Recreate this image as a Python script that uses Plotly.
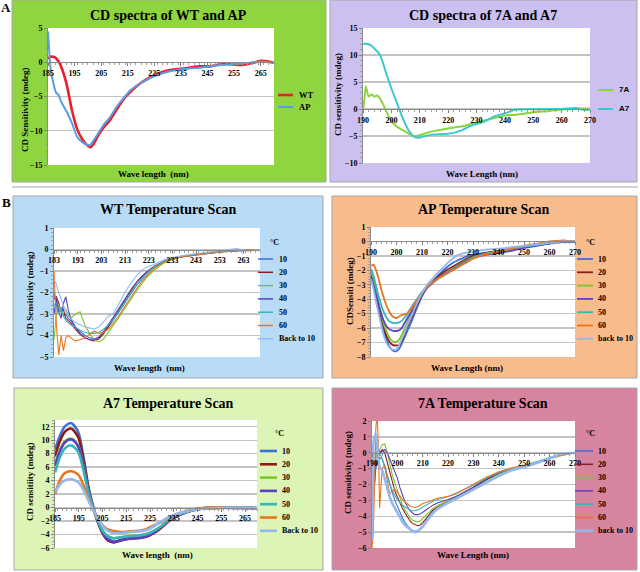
import plotly.graph_objects as go

# ======================= DATA =======================
# Panel A (left): CD spectra of WT and AP
wl_wt_ap = [185, 186, 187, 188, 189, 190, 192, 194, 196, 198, 200, 201, 202, 204, 206, 208, 210, 212,
            214, 216, 218, 220, 223, 226, 230, 234, 238, 242, 246, 250, 254, 258, 262, 265, 268, 270]
cd_wt = [0.5, 0.8, 0.8, 0.6, 0.1, -0.7, -3.2, -7.0, -9.8, -11.3, -12.2, -12.4, -12.0, -10.6, -9.5, -8.6,
         -7.4, -6.2, -5.1, -4.3, -3.6, -3.0, -2.3, -1.7, -1.2, -1.0, -0.8, -0.6, -0.6, -0.3, -0.3, -0.4,
         -0.1, 0.2, 0.1, -0.1]
cd_ap = [4.5, -1.0, -3.0, -4.4, -4.8, -5.8, -7.2, -8.9, -10.9, -11.7, -12.1, -12.0, -11.5, -10.3, -9.1,
         -8.2, -7.0, -5.9, -5.0, -4.1, -3.5, -3.0, -2.4, -1.9, -1.4, -1.1, -0.9, -0.8, -0.6, -0.4, -0.3,
         -0.2, 0.0, 0.1, 0.0, -0.1]

# Panel A (right): CD spectra of 7A and A7
wl_7a_a7 = [190, 190.5, 191, 192, 193, 194, 195, 196, 197, 198, 200, 202, 204, 206, 208, 210, 212, 215,
            220, 225, 228, 230, 233, 236, 240, 244, 250, 255, 260, 265, 268, 270]
cd_7a = [-0.5, 2.0, 4.2, 2.3, 2.7, 2.3, 2.5, 1.9, 1.0, -0.2, -2.2, -3.3, -3.9, -4.5, -5.1, -4.8, -4.5,
         -4.1, -3.6, -3.2, -2.8, -2.5, -2.1, -1.7, -1.2, -1.05, -0.6, -0.4, -0.1, 0.1, 0.1, 0.1]
cd_a7 = [12.0, 12.1, 12.1, 12.0, 11.7, 11.2, 10.7, 10.0, 8.6, 6.9, 3.8, 1.05, -1.7, -3.9, -5.1, -5.3,
         -5.0, -4.7, -4.6, -3.9, -3.1, -2.8, -2.3, -1.4, -0.8, -0.1, -0.05, 0.0, 0.0, 0.2, -0.2, -0.1]

temp_labels = ["10", "20", "30", "40", "50", "60", "Back to 10"]
temp_labels_lc = ["10", "20", "30", "40", "50", "60", "back to 10"]

# Panel B: WT temperature scan
wl_wt_scan = [183, 184, 185, 186, 187, 188, 189, 190, 192, 194, 196, 198, 200, 202, 204, 206, 208, 210,
              212, 214, 216, 218, 220, 222, 224, 226, 228, 230, 233, 236, 240, 245, 250, 255, 260, 265, 270]
wt_10 = [-2.0, -2.6, -2.9, -2.7, -3.1, -3.0, -3.2, -3.3, -3.6, -3.8, -4.0, -4.1, -4.15, -4.1, -3.9, -3.6,
         -3.3, -3.0, -2.65, -2.3, -1.95, -1.65, -1.4, -1.15, -0.95, -0.78, -0.64, -0.52, -0.4, -0.33,
         -0.27, -0.2, -0.14, -0.08, -0.04, -0.03, 0.0]
wt_20 = [-2.3, -2.2, -2.5, -2.9, -2.8, -3.2, -3.3, -3.4, -3.7, -3.95, -4.1, -4.2, -4.25, -4.15, -3.9,
         -3.55, -3.2, -2.85, -2.5, -2.15, -1.8, -1.5, -1.25, -1.05, -0.88, -0.74, -0.62, -0.52, -0.42,
         -0.34, -0.27, -0.2, -0.13, -0.08, -0.05, -0.02, 0.0]
wt_30 = [-4.2, -3.0, -2.6, -2.9, -2.7, -2.8, -3.0, -3.2, -3.0, -2.9, -3.5, -3.9, -4.2, -4.3, -4.15, -3.85,
         -3.55, -3.25, -2.9, -2.55, -2.2, -1.9, -1.6, -1.32, -1.1, -0.9, -0.74, -0.6, -0.46, -0.37, -0.3,
         -0.22, -0.16, -0.1, -0.06, -0.04, -0.02]
wt_40 = [-3.0, -2.3, -2.9, -3.2, -2.5, -2.2, -2.8, -3.2, -3.6, -3.9, -4.1, -4.2, -4.2, -4.05, -3.8, -3.5,
         -3.15, -2.8, -2.45, -2.1, -1.78, -1.5, -1.25, -1.05, -0.9, -0.76, -0.64, -0.54, -0.44, -0.36,
         -0.3, -0.22, -0.15, -0.09, -0.05, -0.06, -0.02]
wt_50 = [-2.5, -2.8, -3.0, -2.7, -3.1, -3.3, -3.4, -3.5, -3.6, -3.75, -3.85, -3.9, -3.9, -3.85, -3.7,
         -3.5, -3.25, -2.95, -2.6, -2.25, -1.92, -1.62, -1.36, -1.12, -0.93, -0.77, -0.63, -0.52, -0.41,
         -0.34, -0.27, -0.2, -0.13, -0.08, -0.03, -0.03, 0.0]
wt_60 = [-1.0, -3.5, -4.9, -4.0, -4.7, -4.1, -4.0, -4.1, -4.25, -4.2, -4.1, -3.95, -3.8, -3.9, -3.85,
         -3.7, -3.45, -3.15, -2.8, -2.45, -2.1, -1.8, -1.5, -1.25, -1.03, -0.84, -0.68, -0.56, -0.44,
         -0.36, -0.29, -0.21, -0.14, -0.08, -0.03, -0.03, 0.0]
wt_back = [-1.4, -1.6, -2.0, -2.3, -2.6, -2.9, -3.1, -3.2, -3.4, -3.5, -3.6, -3.65, -3.7, -3.6, -3.35,
           -3.1, -3.0, -2.6, -2.2, -1.8, -1.5, -1.2, -0.98, -0.82, -0.75, -0.66, -0.55, -0.46, -0.37,
           -0.3, -0.24, -0.16, -0.1, -0.05, 0.04, -0.06, 0.0]

# Panel B: AP temperature scan
wl_ap_scan = [190, 191, 192, 193, 194, 195, 196, 197, 198, 199, 200, 201, 202, 203, 204, 205, 206, 208,
              210, 212, 214, 216, 218, 220, 222, 224, 226, 228, 230, 233, 236, 240, 245, 250, 255, 260,
              265, 270]
ap_10 = [-2.3, -3.0, -3.9, -4.7, -5.5, -6.2, -6.8, -7.2, -7.45, -7.6, -7.6, -7.45, -7.1, -6.7, -6.3, -5.9,
         -5.5, -4.6, -3.8, -3.2, -2.8, -2.4, -2.05, -1.75, -1.5, -1.3, -1.15, -1.0, -0.92, -0.82, -0.75,
         -0.68, -0.55, -0.4, -0.25, -0.12, 0.0, -0.05]
ap_20 = [-2.2, -2.8, -3.6, -4.4, -5.2, -5.9, -6.5, -6.9, -7.1, -7.2, -7.2, -7.2, -6.9, -6.5, -6.0, -5.6,
         -5.2, -4.4, -3.7, -3.2, -2.85, -2.5, -2.2, -1.95, -1.75, -1.55, -1.35, -1.15, -1.0, -0.87, -0.77,
         -0.66, -0.5, -0.35, -0.2, -0.1, 0.05, 0.0]
ap_30 = [-2.1, -2.7, -3.5, -4.3, -5.0, -5.7, -6.2, -6.6, -6.85, -6.95, -6.95, -6.8, -6.5, -6.1, -5.7,
         -5.3, -4.9, -4.2, -3.6, -3.2, -2.9, -2.6, -2.35, -2.1, -1.9, -1.65, -1.45, -1.25, -1.1, -0.95,
         -0.82, -0.7, -0.55, -0.4, -0.25, -0.12, 0.0, 0.0]
ap_40 = [-2.4, -3.0, -3.7, -4.4, -5.0, -5.5, -5.85, -6.05, -6.15, -6.2, -6.2, -6.15, -6.0, -5.7, -5.4,
         -5.1, -4.8, -4.2, -3.65, -3.2, -2.9, -2.6, -2.35, -2.15, -1.95, -1.7, -1.5, -1.3, -1.15, -1.0,
         -0.9, -0.8, -0.65, -0.45, -0.3, -0.15, -0.05, -0.05]
ap_50 = [-1.9, -2.4, -3.1, -3.8, -4.4, -4.9, -5.25, -5.5, -5.6, -5.65, -5.65, -5.6, -5.5, -5.3, -5.1,
         -4.8, -4.5, -4.0, -3.5, -3.1, -2.85, -2.6, -2.4, -2.2, -2.0, -1.75, -1.55, -1.35, -1.15, -0.95,
         -0.8, -0.68, -0.5, -0.35, -0.25, -0.1, 0.0, 0.0]
ap_60 = [-1.7, -1.6, -2.0, -2.6, -3.3, -3.9, -4.4, -4.8, -5.1, -5.25, -5.3, -5.2, -5.1, -5.05, -5.0,
         -4.8, -4.6, -4.1, -3.6, -3.15, -2.85, -2.6, -2.4, -2.2, -2.0, -1.8, -1.6, -1.4, -1.2, -1.0,
         -0.85, -0.7, -0.5, -0.3, -0.15, 0.0, 0.05, 0.0]
ap_back = [-2.6, -3.3, -4.2, -5.0, -5.8, -6.5, -7.0, -7.3, -7.45, -7.5, -7.45, -7.2, -6.8, -6.4, -5.9,
           -5.5, -5.1, -4.3, -3.6, -3.0, -2.6, -2.2, -1.85, -1.5, -1.2, -0.95, -0.82, -0.75, -0.7, -0.62,
           -0.55, -0.5, -0.4, -0.3, -0.2, -0.1, 0.0, 0.0]

# Panel B: A7 temperature scan
wl_a7_scan = [185, 187, 189, 191, 192, 193, 195, 197, 199, 201, 203, 205, 207, 209, 210, 212, 215, 218,
              221, 224, 227, 230, 233, 236, 240, 245, 250, 255, 260, 265, 270]
a7_10 = [8.6, 10.6, 12.0, 12.5, 12.5, 12.2, 11.0, 7.5, 3.2, 0.2, -2.0, -3.7, -4.7, -5.1, -5.15, -4.9,
         -4.6, -4.5, -4.4, -4.2, -3.6, -2.8, -1.9, -1.3, -0.7, -0.2, -0.05, 0.0, -0.05, -0.05, -0.1]
a7_20 = [7.6, 9.8, 11.2, 11.7, 11.7, 11.4, 10.3, 7.0, 3.0, 0.1, -2.1, -3.8, -4.8, -5.1, -5.15, -4.95,
         -4.65, -4.55, -4.45, -4.25, -3.7, -2.9, -2.0, -1.35, -0.75, -0.25, -0.05, 0.0, 0.0, 0.0, -0.1]
a7_30 = [6.5, 8.5, 9.8, 10.2, 10.2, 10.0, 9.0, 6.1, 2.6, 0.0, -1.9, -3.4, -4.2, -4.5, -4.55, -4.45,
         -4.3, -4.2, -4.1, -3.9, -3.4, -2.7, -1.8, -1.2, -0.65, -0.2, -0.05, 0.0, 0.0, 0.0, -0.1]
a7_40 = [6.2, 8.3, 9.6, 10.1, 10.1, 9.9, 8.9, 6.1, 2.6, 0.0, -2.0, -3.6, -4.6, -5.0, -5.05, -4.9, -4.7,
         -4.6, -4.5, -4.2, -3.6, -2.8, -1.9, -1.3, -0.7, -0.25, -0.05, 0.0, 0.0, -0.05, -0.1]
a7_50 = [5.2, 7.4, 8.7, 9.2, 9.2, 9.0, 8.1, 5.5, 2.3, -0.1, -1.9, -3.4, -4.2, -4.5, -4.55, -4.45, -4.3,
         -4.2, -4.1, -3.9, -3.4, -2.7, -1.8, -1.2, -0.65, -0.2, -0.05, 0.0, 0.0, 0.0, -0.05]
a7_60 = [2.0, 4.0, 5.1, 5.4, 5.4, 5.3, 4.8, 3.3, 1.3, -0.3, -1.6, -2.6, -3.2, -3.45, -3.5, -3.6, -3.6,
         -3.5, -3.4, -3.1, -2.6, -2.1, -1.5, -1.0, -0.55, -0.15, 0.0, 0.0, -0.05, -0.05, -0.1]
a7_back = [2.3, 3.4, 4.0, 4.2, 4.2, 4.1, 3.7, 2.6, 1.1, -0.3, -1.6, -2.7, -3.4, -3.75, -3.8, -3.8, -3.7,
           -3.6, -3.5, -3.3, -2.7, -2.0, -1.4, -1.0, -0.6, -0.25, -0.1, -0.05, -0.05, -0.05, -0.1]

# Panel B: 7A temperature scan
wl_7a_scan = [190, 190.5, 191, 191.5, 192, 192.5, 193, 194, 195, 196, 197, 198, 199, 200, 201, 202, 203,
              204, 205, 206, 207, 208, 209, 210, 212, 214, 216, 218, 220, 223, 226, 230, 235, 240, 245,
              250, 255, 260, 265, 270]
s7a_10 = [-2.0, -1.8, -2.1, -0.5, -0.8, -0.5, -0.3, -0.4, -0.8, -1.4, -2.0, -2.5, -3.0, -3.4, -3.8, -4.1,
          -4.4, -4.6, -4.8, -4.9, -4.95, -4.9, -4.8, -4.6, -4.1, -3.7, -3.45, -3.25, -3.1, -2.85, -2.6,
          -2.2, -1.7, -1.3, -1.05, -0.85, -0.6, -0.35, -0.1, 0.0]
s7a_20 = [-1.0, -0.5, -0.8, -0.2, 0.1, -0.1, 0.0, 0.2, 0.0, -0.6, -1.3, -1.9, -2.4, -2.8, -3.2, -3.5,
          -3.8, -4.1, -4.3, -4.45, -4.55, -4.6, -4.55, -4.4, -4.0, -3.6, -3.4, -3.2, -3.05, -2.8, -2.55,
          -2.2, -1.7, -1.3, -1.05, -0.85, -0.6, -0.35, -0.1, 0.0]
s7a_30 = [-1.5, -0.8, -0.5, -0.3, 0.0, -0.2, 0.2, 0.5, 0.55, 0.0, -0.8, -1.4, -1.9, -2.4, -2.9, -3.3,
          -3.6, -3.9, -4.1, -4.25, -4.3, -4.35, -4.3, -4.15, -3.8, -3.5, -3.3, -3.15, -3.0, -2.8, -2.6,
          -2.3, -1.8, -1.35, -1.05, -0.85, -0.65, -0.4, -0.15, 0.0]
s7a_40 = [-2.5, -2.2, -1.9, -1.0, -0.5, -0.3, -0.1, 0.1, 0.2, 0.0, -0.4, -0.8, -1.2, -1.6, -2.2, -2.7,
          -3.1, -3.4, -3.65, -3.8, -3.9, -3.9, -3.85, -3.75, -3.5, -3.3, -3.15, -3.05, -2.95, -2.75, -2.5,
          -2.15, -1.65, -1.25, -1.0, -0.85, -0.6, -0.35, -0.1, 0.0]
s7a_50 = [-5.5, -3.0, -1.0, 0.2, 0.5, 0.3, 0.0, -0.4, -1.0, -1.5, -2.0, -2.4, -2.7, -2.95, -3.15, -3.3,
          -3.42, -3.52, -3.6, -3.65, -3.65, -3.6, -3.5, -3.4, -3.2, -3.05, -2.95, -2.85, -2.75, -2.55,
          -2.35, -2.05, -1.6, -1.25, -1.0, -0.8, -0.55, -0.3, -0.1, 0.0]
s7a_60 = [-6.0, -5.0, -2.0, 1.5, 2.5, 0.5, -3.5, -1.0, -0.8, -1.6, -2.6, -2.4, -2.3, -2.5, -2.75, -2.95,
          -3.1, -3.25, -3.35, -3.42, -3.45, -3.4, -3.3, -3.2, -3.1, -2.95, -2.85, -2.8, -2.75, -2.6, -2.35,
          -2.0, -1.55, -1.2, -0.95, -0.8, -0.6, -0.35, -0.15, 0.0]
s7a_back = [-5.5, 0.6, 1.0, 1.2, 0.6, -0.5, -0.9, -1.1, -1.6, -2.2, -2.8, -3.2, -3.5, -3.8, -4.1, -4.35,
            -4.55, -4.7, -4.85, -4.95, -5.0, -4.95, -4.8, -4.65, -4.2, -3.8, -3.5, -3.3, -3.15, -2.9,
            -2.65, -2.3, -1.85, -1.45, -1.1, -0.9, -0.65, -0.35, -0.05, 0.0]

# ======================= STYLE / LAYOUT =======================
W, H = 640, 572
SERIF = "Liberation Serif, Times New Roman, serif"
SANS = "Liberation Sans, Arial, sans-serif"
TEMP_COLORS = ["#3A6FD6", "#8E1B1B", "#7CC62A", "#5B3FC4", "#36B5B8", "#E8761E", "#93B8EE"]


def fx(p):
    return p / W


def fy(p):
    return 1 - p / H


fig = go.Figure()
shapes = []
annotations = []
axes = {}


def text(x, y, s, size, family=SERIF, xanchor="center", angle=0, color="black"):
    annotations.append(dict(x=fx(x), y=fy(y), xref="paper", yref="paper", text="<b>" + s + "</b>",
                            showarrow=False, xanchor=xanchor, yanchor="middle", textangle=angle,
                            font=dict(family=family, size=size, color=color)))


def panel(idx, box, boxcolor, plot, xr, yr, x0, xd, yd, ymin_d, title, tpos, xtitle, xtpos,
          ytitle, ytpos, series, legend):
    xn, yn = ("x", "y") if idx == 1 else (f"x{idx}", f"y{idx}")
    xk, yk = ("xaxis", "yaxis") if idx == 1 else (f"xaxis{idx}", f"yaxis{idx}")
    L, T, R, B = plot
    zero_px = T + (yr[1] - 0) / (yr[1] - yr[0]) * (B - T)
    shapes.append(dict(type="rect", xref="paper", yref="paper", x0=fx(box[0]), x1=fx(box[2]),
                       y0=fy(box[3]), y1=fy(box[1]), fillcolor=boxcolor,
                       line=dict(color="#A6A6A6", width=1), layer="below"))
    shapes.append(dict(type="rect", xref="paper", yref="paper", x0=fx(L), x1=fx(R),
                       y0=fy(B), y1=fy(T), fillcolor="white", line=dict(width=0), layer="below"))
    tf = dict(family=SERIF, size=8, color="black", weight="bold")
    axes[xk] = dict(domain=[fx(L), fx(R)], range=xr, anchor="free", position=fy(zero_px),
                    tick0=x0, dtick=xd, ticks="outside", ticklen=3, tickcolor="#808080",
                    showline=True, linecolor="#8C8C8C", linewidth=1, showgrid=False,
                    zeroline=False, tickfont=tf, fixedrange=True, automargin=False,
                    minor=dict(dtick=2, ticks="outside", ticklen=2, tickcolor="#A0A0A0"))
    axes[yk] = dict(domain=[fy(B), fy(T)], range=yr, anchor=xn, tick0=0, dtick=yd,
                    ticks="outside", ticklen=3, tickcolor="#808080", showline=True,
                    linecolor="#8C8C8C", linewidth=1, showgrid=True, gridcolor="#C3C3C3",
                    gridwidth=1.4, zeroline=False, tickfont=tf, fixedrange=True, automargin=False,
                    minor=dict(dtick=ymin_d, ticks="outside", ticklen=2, tickcolor="#A0A0A0",
                               showgrid=False))
    for xs, ys, name, col, w, shp in series:
        fig.add_trace(go.Scatter(x=xs, y=ys, mode="lines", name=name, xaxis=xn, yaxis=yn,
                                 line=dict(color=col, width=w, shape=shp, smoothing=0.6),
                                 showlegend=False))
    text(tpos[0], tpos[1], title, 14)
    text(xtpos[0], xtpos[1], xtitle, 9)
    text(ytpos[0], ytpos[1], ytitle, 9, angle=-90)
    lx0, lx1, tx, ys0, dy, lfont, lsize, head = legend
    if head:
        text(head[0], head[1], head[2], 8)
    for k, (xs, ys, name, col, w, shp) in enumerate(series):
        yy = ys0 + k * dy
        shapes.append(dict(type="line", xref="paper", yref="paper", x0=fx(lx0), x1=fx(lx1),
                           y0=fy(yy), y1=fy(yy), line=dict(color=col, width=max(w, 1.5))))
        text(tx, yy, name, lsize, family=lfont, xanchor="left")


def temp_series(xs, ys_list, labels, widths, shp):
    return [(xs, ys, lab, c, w, shp) for ys, lab, c, w in zip(ys_list, labels, TEMP_COLORS, widths)]


panel(1, (12, 0, 326, 182), "#8ED53F", (48, 28, 274, 165), [185, 270], [-15, 5], 185, 10, 5, 1,
      "CD spectra of WT and AP", (168, 15), "Wave length  (nm)", (153, 174),
      "CD Sensitivity (mdeg)", (25, 110),
      [(wl_wt_ap, cd_wt, "WT", "#E8202A", 2.6, "spline"),
       (wl_wt_ap, cd_ap, "AP", "#5A9BE6", 2.0, "spline")],
      (278, 293, 297, 95, 12, SERIF, 8.5, None))

panel(2, (330, 0, 637, 182), "#CBC0F0", (363, 28, 590, 163), [190, 270], [-10, 15], 190, 10, 5, 1,
      "CD spectra of 7A and A7", (483, 15), "Wave Length (nm)", (482, 174),
      "CD sensitivity (mdeg)", (338, 95),
      [(wl_7a_a7, cd_7a, "7A", "#8CD43C", 2.0, "spline"),
       (wl_7a_a7, cd_a7, "A7", "#3CC8D2", 2.0, "spline")],
      (598, 613, 617, 90, 19, SANS, 8, None))

panel(3, (13, 196, 323, 378), "#B9DCF6", (54, 228, 260, 357), [183, 270], [-5, 1], 183, 10, 1, 0.2,
      "WT Temperature Scan", (168, 210), "Wave length  (nm)", (149, 368),
      "CD Sensitivity (mdeg)", (30, 294),
      temp_series(wl_wt_scan, [wt_10, wt_20, wt_30, wt_40, wt_50, wt_60, wt_back], temp_labels,
                  [1.1] * 7, "linear"),
      (258, 273, 277, 259, 13.3, SERIF, 8, (274, 242, "°C")))

panel(4, (332, 196, 637, 378), "#F8BB8C", (371, 227, 575, 357), [190, 270], [-8, 1], 190, 10, 1, 0.2,
      "AP Temperature Scan", (483, 210), "Wave Length (nm)", (467, 368),
      "CDSensiti (mdeg)", (350, 291),
      temp_series(wl_ap_scan, [ap_10, ap_20, ap_30, ap_40, ap_50, ap_60, ap_back], temp_labels_lc,
                  [1.8] * 7, "spline"),
      (577, 593, 596, 259, 13.3, SERIF, 8, (590, 242, "°C")))

panel(5, (14, 388, 323, 570), "#DCF4B5", (55, 420, 257, 548), [185, 270], [-6, 13], 185, 10, 2, 0.5,
      "A7 Temperature Scan", (168, 403), "Wave length  (nm)", (157, 555),
      "CD sensitiity (mdeg)", (30, 482),
      temp_series(wl_a7_scan, [a7_10, a7_20, a7_30, a7_40, a7_50, a7_60, a7_back], temp_labels,
                  [2.6] * 7, "spline"),
      (260, 277, 280, 451, 13.3, SERIF, 8, (279, 433, "°C")))

panel(6, (332, 388, 637, 570), "#D7849F", (372, 421, 575, 548), [190, 270], [-6, 2], 190, 10, 1, 0.2,
      "7A Temperature Scan", (483, 403), "Wave Length (nm)", (473, 555),
      "CD sensitivity (mdeg)", (348, 473),
      temp_series(wl_7a_scan, [s7a_10, s7a_20, s7a_30, s7a_40, s7a_50, s7a_60, s7a_back],
                  temp_labels_lc, [1.1] * 6 + [2.6], "linear"),
      (575, 593, 596, 451, 13.3, SERIF, 8, (590, 433, "°C")))

text(6, 8, "A", 13, xanchor="center")
text(6, 202, "B", 13, xanchor="center")

# thin separator under group A
shapes.append(dict(type="line", xref="paper", yref="paper", x0=fx(12), x1=fx(638),
                   y0=fy(187), y1=fy(187), line=dict(color="#A6A6A6", width=1)))

fig.update_layout(width=W, height=H, autosize=False,
                  margin=dict(l=0, r=0, t=0, b=0, pad=0, autoexpand=False),
                  paper_bgcolor="white", plot_bgcolor="white", showlegend=False,
                  shapes=shapes, annotations=annotations, **axes)

fig.write_html("out.html", config={"displayModeBar": False, "staticPlot": True},
               post_script="document.body.style.margin='0px';")
